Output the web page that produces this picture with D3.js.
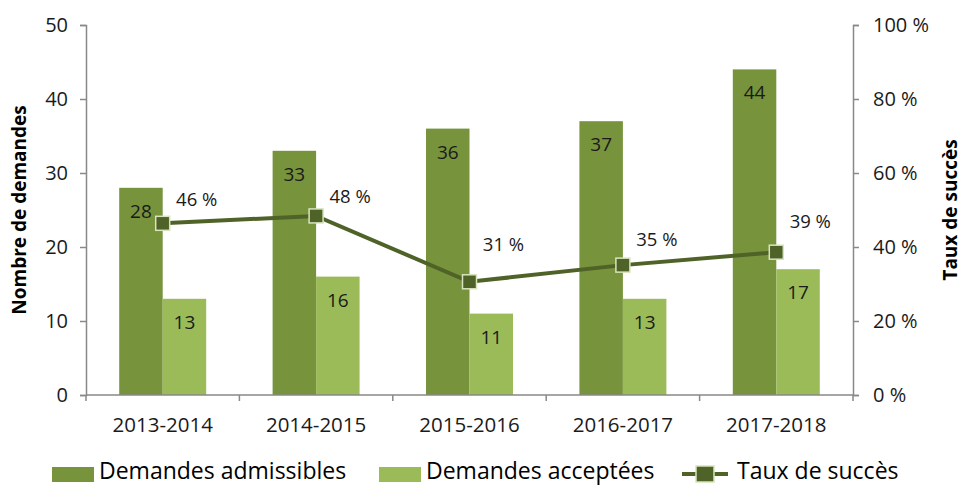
<!DOCTYPE html>
<html>
<head>
<meta charset="utf-8">
<title>Demandes et taux de succès</title>
<script src="https://d3js.org/d3.v7.min.js"></script>
<style>
  body { margin: 0; background: #fff; }
  svg { display: block; font-family: "Open Sans", "Noto Sans", sans-serif; }
  .axis path, .axis line { stroke: #898989; stroke-width: 1.5; }
  .axis text { fill: #1a1a1a; font-size: 20px; font-family: "Open Sans", sans-serif; }
</style>
</head>
<body>
<script>
// data
var years = ["2013-2014", "2014-2015", "2015-2016", "2016-2017", "2017-2018"];
var admissibles = [28, 33, 36, 37, 44];
var acceptees = [13, 16, 11, 13, 17];
var tauxSucces = [0.464, 0.484, 0.306, 0.351, 0.386];
var leftTicks = [0, 10, 20, 30, 40, 50];
var rightTicks = [0, 0.2, 0.4, 0.6, 0.8, 1];
var seriesNames = ["Demandes admissibles", "Demandes acceptées", "Taux de succès"];

// label nudges for the percentage labels (pixels above the marker)
var pctLift = [24, 20, 38, 26, 31];

(function() {
  var width = 964, height = 487;
  var mLeft = 86, mRight = 853, mTop = 25, mBottom = 395;

  var colDark = "#77933c", colLight = "#9bbb59", colLine = "#4f6228", colEdge = "#d7e4bd";

  var svg = d3.select("body").append("svg")
    .attr("width", width)
    .attr("height", height);

  var x = d3.scaleBand()
    .domain(years)
    .range([mLeft, mRight])
    .paddingInner(0.433)
    .paddingOuter(0.2165);

  var yL = d3.scaleLinear().domain([0, 50]).range([mBottom, mTop]);
  var yR = d3.scaleLinear().domain([0, 1]).range([mBottom, mTop]);

  var bw = x.bandwidth() / 2;
  var pct = function(d) { return Math.round(d * 100) + " %"; };

  // bars
  svg.selectAll(".barA")
    .data(years)
    .enter().append("rect")
    .attr("class", "barA")
    .attr("x", function(d) { return x(d); })
    .attr("y", function(d, i) { return yL(admissibles[i]); })
    .attr("width", bw)
    .attr("height", function(d, i) { return mBottom - yL(admissibles[i]); })
    .attr("fill", colDark);

  svg.selectAll(".barB")
    .data(years)
    .enter().append("rect")
    .attr("class", "barB")
    .attr("x", function(d) { return x(d) + bw; })
    .attr("y", function(d, i) { return yL(acceptees[i]); })
    .attr("width", bw)
    .attr("height", function(d, i) { return mBottom - yL(acceptees[i]); })
    .attr("fill", colLight);

  // bar labels
  svg.selectAll(".lblA")
    .data(years)
    .enter().append("text")
    .attr("x", function(d) { return x(d) + bw / 2; })
    .attr("y", function(d, i) { return yL(admissibles[i]) + 30; })
    .attr("text-anchor", "middle")
    .attr("font-size", 19)
    .attr("fill", "#1a1a1a")
    .text(function(d, i) { return admissibles[i]; });

  svg.selectAll(".lblB")
    .data(years)
    .enter().append("text")
    .attr("x", function(d) { return x(d) + bw * 1.5; })
    .attr("y", function(d, i) { return yL(acceptees[i]) + 30; })
    .attr("text-anchor", "middle")
    .attr("font-size", 19)
    .attr("fill", "#1a1a1a")
    .text(function(d, i) { return acceptees[i]; });

  // axes
  var xAxis = svg.append("g")
    .attr("class", "axis")
    .attr("transform", "translate(0," + mBottom + ")");
  xAxis.append("path").attr("d", "M" + mLeft + ",0H" + mRight);
  xAxis.selectAll(".tk")
    .data(d3.range(years.length + 1))
    .enter().append("line")
    .attr("x1", function(i) { return mLeft + i * x.step(); })
    .attr("x2", function(i) { return mLeft + i * x.step(); })
    .attr("y1", 0).attr("y2", 6);
  xAxis.selectAll(".xl")
    .data(years)
    .enter().append("text")
    .attr("x", function(d) { return x(d) + x.bandwidth() / 2; })
    .attr("y", 37)
    .attr("text-anchor", "middle")
    .style("font-size", "20.5px")
    .text(function(d) { return d; });

  svg.append("g")
    .attr("class", "axis")
    .attr("transform", "translate(" + mLeft + ",0)")
    .call(d3.axisLeft(yL).tickValues(leftTicks).tickSize(6).tickSizeOuter(6).tickPadding(12));

  svg.append("g")
    .attr("class", "axis")
    .attr("transform", "translate(" + mRight + ",0)")
    .call(d3.axisRight(yR).tickValues(rightTicks).tickSize(6).tickSizeOuter(6).tickPadding(14)
      .tickFormat(pct));

  svg.selectAll(".axis .domain").attr("fill", "none");

  // axis titles
  svg.append("text")
    .attr("transform", "translate(26," + ((mTop + mBottom) / 2) + ") rotate(-90)")
    .attr("text-anchor", "middle")
    .attr("font-size", 19)
    .attr("font-weight", "bold")
    .attr("fill", "#000")
    .text("Nombre de demandes");

  svg.append("text")
    .attr("transform", "translate(957," + ((mTop + mBottom) / 2) + ") rotate(-90)")
    .attr("text-anchor", "middle")
    .attr("font-size", 19)
    .attr("font-weight", "bold")
    .attr("fill", "#000")
    .text("Taux de succès");

  // success rate line
  var cx = function(d, i) { return x(years[i]) + x.bandwidth() / 2; };
  var line = d3.line()
    .x(cx)
    .y(function(d) { return yR(d); });

  svg.append("path")
    .datum(tauxSucces)
    .attr("d", line)
    .attr("fill", "none")
    .attr("stroke", colLine)
    .attr("stroke-width", 4);

  svg.selectAll(".mk")
    .data(tauxSucces)
    .enter().append("rect")
    .attr("x", function(d, i) { return cx(d, i) - 7; })
    .attr("y", function(d) { return yR(d) - 7; })
    .attr("width", 14).attr("height", 14)
    .attr("fill", colLine)
    .attr("stroke", colEdge)
    .attr("stroke-width", 1.5);

  svg.selectAll(".pct")
    .data(tauxSucces)
    .enter().append("text")
    .attr("x", function(d, i) { return cx(d, i) + 34; })
    .attr("y", function(d, i) { return yR(d) - pctLift[i] + 7; })
    .attr("text-anchor", "middle")
    .attr("font-size", 18.5)
    .attr("fill", "#1a1a1a")
    .text(pct);

  // legend
  var legend = svg.append("g").attr("transform", "translate(0,469)");
  var lx = [52, 379, 682];
  var tx = [99, 426, 737];

  legend.append("rect").attr("x", lx[0]).attr("y", -2).attr("width", 42).attr("height", 15).attr("fill", colDark);
  legend.append("rect").attr("x", lx[1]).attr("y", -2).attr("width", 42).attr("height", 15).attr("fill", colLight);
  legend.append("line").attr("x1", lx[2]).attr("x2", lx[2] + 46).attr("y1", 5).attr("y2", 5)
    .attr("stroke", colLine).attr("stroke-width", 4);
  legend.append("rect").attr("x", lx[2] + 14).attr("y", -3).attr("width", 18).attr("height", 16)
    .attr("fill", colLine).attr("stroke", colEdge).attr("stroke-width", 1.5);

  legend.selectAll(".lt")
    .data(seriesNames)
    .enter().append("text")
    .attr("x", function(d, i) { return tx[i]; })
    .attr("y", 10)
    .attr("font-size", 23)
    .attr("fill", "#000")
    .text(function(d) { return d; });
})();
</script>
</body>
</html>
